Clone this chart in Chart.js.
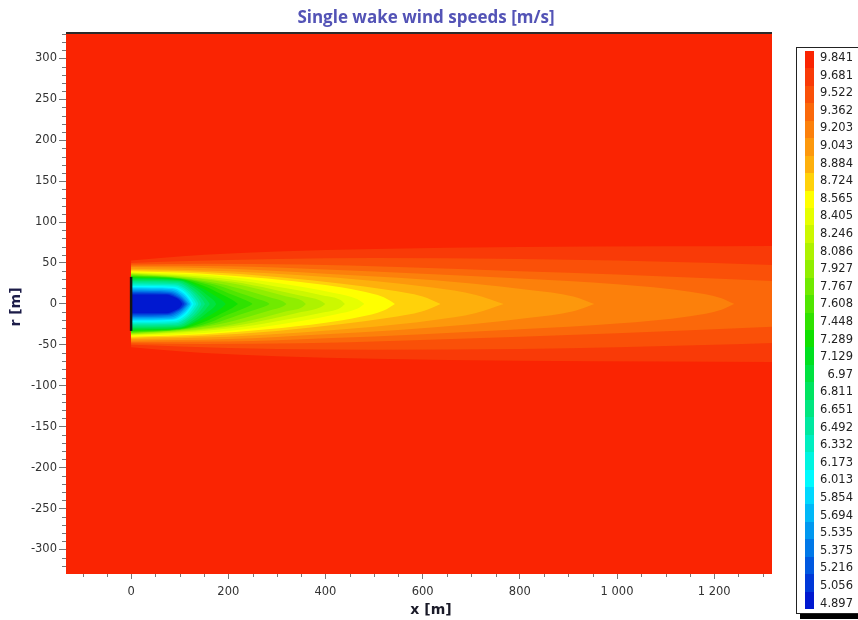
<!DOCTYPE html>
<html>
<head>
<meta charset="utf-8">
<title>Single wake wind speeds</title>
<script src="https://cdn.jsdelivr.net/npm/chart.js@4.4.1/dist/chart.umd.min.js"></script>
<style>
    body { margin: 0; background: #fff; }
    .wrap { position: relative; width: 858px; height: 620px; overflow: hidden; }
    #chart-wake { position: absolute; left: 0; top: 0; }
    .chart-title { position: absolute; left: 0; top: 5px; width: 852px; text-align: center; line-height: 20px;
        font: bold 17px 'Open Sans', sans-serif; color: #5353b6; }
    .x-title { position: absolute; left: 381px; top: 600px; width: 100px; text-align: center;
        font: bold 14px 'DejaVu Sans', sans-serif; color: #1a1a28; line-height: 18px; }
    .y-title { position: absolute; left: -34px; top: 298px; width: 100px; height: 18px; line-height: 18px;
        text-align: center; transform: rotate(-90deg);
        font: bold 14px 'DejaVu Sans', sans-serif; color: #1c1c48; }
    .scale-box { position: absolute; left: 796px; top: 47px; width: 90px; height: 565px;
        border: 1px solid #222; background: #fff; box-shadow: 4px 5px 0 #000; }
    .scale-box .swatch { position: absolute; left: 8px; width: 9px; height: 17.6px; }
    .scale-box .value { position: absolute; left: 0; width: 56px; text-align: right;
        font: 11.5px 'DejaVu Sans', sans-serif; color: #222; line-height: 14px; }
</style>
</head>
<body>
<div class="wrap">
    <canvas id="chart-wake" width="858" height="620"></canvas>
    <div class="chart-title">Single wake wind speeds [m/s]</div>
    <div class="x-title">x [m]</div>
    <div class="y-title">r [m]</div>
    <div class="scale-box" id="wake-legend"></div>
</div>
<script>
// colour scale, top (free stream) to bottom (wake core)
const BAND_LABELS = [
    '9.841', '9.681', '9.522', '9.362', '9.203', '9.043', '8.884', '8.724',
    '8.565', '8.405', '8.246', '8.086', '7.927', '7.767', '7.608', '7.448',
    '7.289', '7.129', '6.97', '6.811', '6.651', '6.492', '6.332', '6.173',
    '6.013', '5.854', '5.694', '5.535', '5.375', '5.216', '5.056', '4.897',
]
const BAND_COLORS = [
    '#fa2402', '#f93a07', '#fa5008', '#fb680a', '#fc800b', '#fd980c', '#feb00c', '#ffd20a',
    '#ffff00', '#e6ff00', '#ccf800', '#aef200', '#90ee00', '#70ea00', '#50e600', '#30e200',
    '#10e000', '#00e020', '#00e240', '#00e460', '#00e680', '#00e8a0', '#00eec0', '#00f4e0',
    '#00faff', '#00d8ff', '#00b8f8', '#0098f0', '#0078e8', '#0058e0', '#0038d8', '#0018d0',
]

// wake contours, upper half [x m, r m] (one per level 9.841 ... 5.056)
const CONTOURS = [
    [[0, 53], [60, 56], [150, 60], [300, 64], [500, 67], [800, 69.5], [1100, 70.5], [1400, 71]], // 9.841
    [[0, 50], [100, 52], [300, 55], [500, 56], [800, 55], [1000, 53], [1200, 50], [1400, 46]],   // 9.681
    [[0, 48], [150, 49], [350, 48], [550, 45], [800, 40], [1000, 36], [1200, 31], [1400, 26]],   // 9.522
    [[0, 46.5], [200, 46], [400, 42], [600, 37], [800, 31], [1000, 24], [1150, 15], [1215, 7], [1241, 0]], // 9.362
    [[0, 45], [200, 43], [400, 37], [550, 32], [700, 25], [820, 17], [910, 9], [953, 0]],       // 9.203
    [[0, 43], [200, 40], [350, 35], [500, 28], [620, 20], [710, 11], [767, 0]],                 // 9.043
    [[0, 41.5], [150, 39], [300, 33], [430, 25], [530, 17], [600, 9], [637, 0]],                // 8.884
    [[0, 40], [150, 37], [280, 31], [400, 23], [470, 16], [520, 8], [543, 0]],                  // 8.724
    [[0, 38.8], [150, 35.5], [260, 29], [350, 21], [420, 13], [465, 6], [480, 0]],              // 8.565
    [[0, 38], [130, 34], [230, 28], [320, 19], [390, 11], [430, 5], [440, 0]],                  // 8.405
    [[0, 37.2], [120, 33], [210, 27], [290, 18], [350, 10], [390, 4], [400, 0]],                // 8.246
    [[0, 36.4], [110, 32.5], [200, 26], [270, 17], [320, 9], [352, 4], [360, 0]],               // 8.086
    [[0, 35.6], [100, 32], [180, 25], [240, 16], [285, 8], [313, 3], [320, 0]],                 // 7.927
    [[0, 34.8], [100, 31.5], [170, 24], [220, 14], [255, 7], [280, 2], [285, 0]],               // 7.767
    [[0, 34], [100, 31], [160, 23], [200, 13], [230, 6], [245, 2], [250, 0]],                   // 7.608
    [[0, 33], [100, 30.5], [150, 22], [185, 12], [208, 5], [220, 0]],                           // 7.448
    [[0, 32], [100, 30], [140, 21], [170, 11], [188, 4], [195, 0]],                             // 7.289
    [[0, 31], [100, 29], [135, 20], [158, 10], [172, 3], [175, 0]],                             // 7.129
    [[0, 29.5], [100, 28], [130, 19], [150, 9], [162, 0]],                                      // 6.97
    [[0, 28], [95, 27], [125, 18], [143, 8], [152, 0]],                                         // 6.811
    [[0, 26.5], [95, 25.5], [122, 17], [138, 7], [145, 0]],                                     // 6.651
    [[0, 25], [90, 24], [118, 16], [133, 6], [139, 0]],                                         // 6.492
    [[0, 23.5], [90, 22.5], [115, 15], [128, 6], [134, 0]],                                     // 6.332
    [[0, 22], [88, 21], [112, 14], [124, 5], [129, 0]],                                         // 6.173
    [[0, 20.5], [85, 19.5], [108, 13], [120, 5], [125, 0]],                                     // 6.013
    [[0, 19], [85, 18], [105, 12], [117, 5], [122, 0]],                                         // 5.854
    [[0, 17.5], [82, 16.5], [102, 11], [114, 4], [119, 0]],                                     // 5.694
    [[0, 16], [80, 15], [100, 10], [111, 4], [116, 0]],                                         // 5.535
    [[0, 14.5], [78, 13.5], [97, 9], [108, 4], [113, 0]],                                       // 5.375
    [[0, 13], [75, 12.5], [94, 8.5], [105, 4], [110, 0]],                                       // 5.216
    [[0, 11.5], [72, 11.5], [90, 8], [101, 4], [106, 0]],                                       // 5.056
]

// turbine rotor at x = 0
const ROTOR = [[0, -33], [0, 33]]

const X_TICKS = [0, 200, 400, 600, 800, 1000, 1200]
const Y_TICKS = [-300, -250, -200, -150, -100, -50, 0, 50, 100, 150, 200, 250, 300]
const X_RANGE = [-134, 1319]
const Y_RANGE = [-330, 331]

// colour scale legend
const legendBox = document.getElementById('wake-legend')
BAND_LABELS.forEach((label, i) => {
    legendBox.innerHTML += `
        <span class="swatch" style="top:${3 + i * 17.44}px; background:${BAND_COLORS[i]}"></span>
        <span class="value" style="top:${2 + i * 17.6}px">${label}</span>`
})

const fmt = v => String(v).replace(/\B(?=(\d{3})+(?!\d))/g, ' ')

const datasets = []
CONTOURS.forEach((pts, k) => {
    const line = {
        pointRadius: 0,
        borderWidth: 0,
        borderColor: 'rgba(0,0,0,0)',
        cubicInterpolationMode: 'monotone',
        order: 100 - k,
    }
    datasets.push({ ...line, data: pts.map(([x, r]) => ({ x, y: r })), fill: false })
    datasets.push({
        ...line,
        data: pts.map(([x, r]) => ({ x, y: -r })),
        fill: '-1',
        backgroundColor: BAND_COLORS[k + 1],
    })
})
datasets.push({
    data: ROTOR.map(([x, r]) => ({ x, y: r })),
    pointRadius: 0,
    borderWidth: 2.5,
    borderColor: '#141414',
    tension: 0,
    fill: false,
    order: -1,
})

const wakeFrame = {
    id: 'wakeFrame',
    beforeDatasetsDraw(chart) {
        const { ctx, chartArea: a } = chart
        ctx.save()
        ctx.fillStyle = BAND_COLORS[0]
        ctx.fillRect(a.left, a.top, a.width, a.height)
        ctx.restore()
    },
    afterDraw(chart) {
        const { ctx, chartArea: a, scales } = chart
        ctx.save()
        ctx.strokeStyle = '#777'
        ctx.lineWidth = 1
        ctx.beginPath()
        // minor ticks
        for (let v = -100; v <= X_RANGE[1]; v += 50) {
            if (v % 200 === 0) continue
            const px = Math.round(scales.x.getPixelForValue(v)) + 0.5
            ctx.moveTo(px, a.bottom)
            ctx.lineTo(px, a.bottom + 3)
        }
        for (let v = -320; v <= 330; v += 10) {
            if (v % 50 === 0) continue
            const py = Math.round(scales.y.getPixelForValue(v)) + 0.5
            ctx.moveTo(a.left - 4, py)
            ctx.lineTo(a.left, py)
        }
        ctx.stroke()
        // top frame line
        ctx.strokeStyle = '#2a2a2a'
        ctx.lineWidth = 2
        ctx.beginPath()
        ctx.moveTo(a.left, a.top)
        ctx.lineTo(a.right, a.top)
        ctx.stroke()
        ctx.restore()
    },
}

const tickFont = { family: "'DejaVu Sans', sans-serif", size: 11.5 }

const chartWakeCtx = document.getElementById('chart-wake').getContext('2d')
const chartWake = new Chart(chartWakeCtx, {
    type: 'line',
    data: { datasets },
    options: {
        responsive: false,
        animation: false,
        devicePixelRatio: 1,
        layout: { padding: { top: 33, right: 86, left: 0, bottom: 0 } },
        scales: {
            x: {
                type: 'linear',
                min: X_RANGE[0],
                max: X_RANGE[1],
                afterBuildTicks: s => { s.ticks = X_TICKS.map(value => ({ value })) },
                afterFit: s => { s.height = 46 },
                ticks: { callback: fmt, font: tickFont, color: '#333', padding: 6, maxRotation: 0, autoSkip: false },
                grid: { drawOnChartArea: false, tickLength: 5, tickColor: '#777' },
                border: { display: false },
            },
            y: {
                type: 'linear',
                min: Y_RANGE[0],
                max: Y_RANGE[1],
                afterBuildTicks: s => { s.ticks = Y_TICKS.map(value => ({ value })) },
                afterFit: s => { s.width = 66 },
                ticks: { font: tickFont, color: '#333', padding: 2, autoSkip: false },
                grid: { drawOnChartArea: false, tickLength: 7, tickColor: '#777' },
                border: { display: false },
            },
        },
        plugins: {
            legend: { display: false },
            tooltip: { enabled: false },
        },
    },
    plugins: [wakeFrame],
})
</script>
</body>
</html>
